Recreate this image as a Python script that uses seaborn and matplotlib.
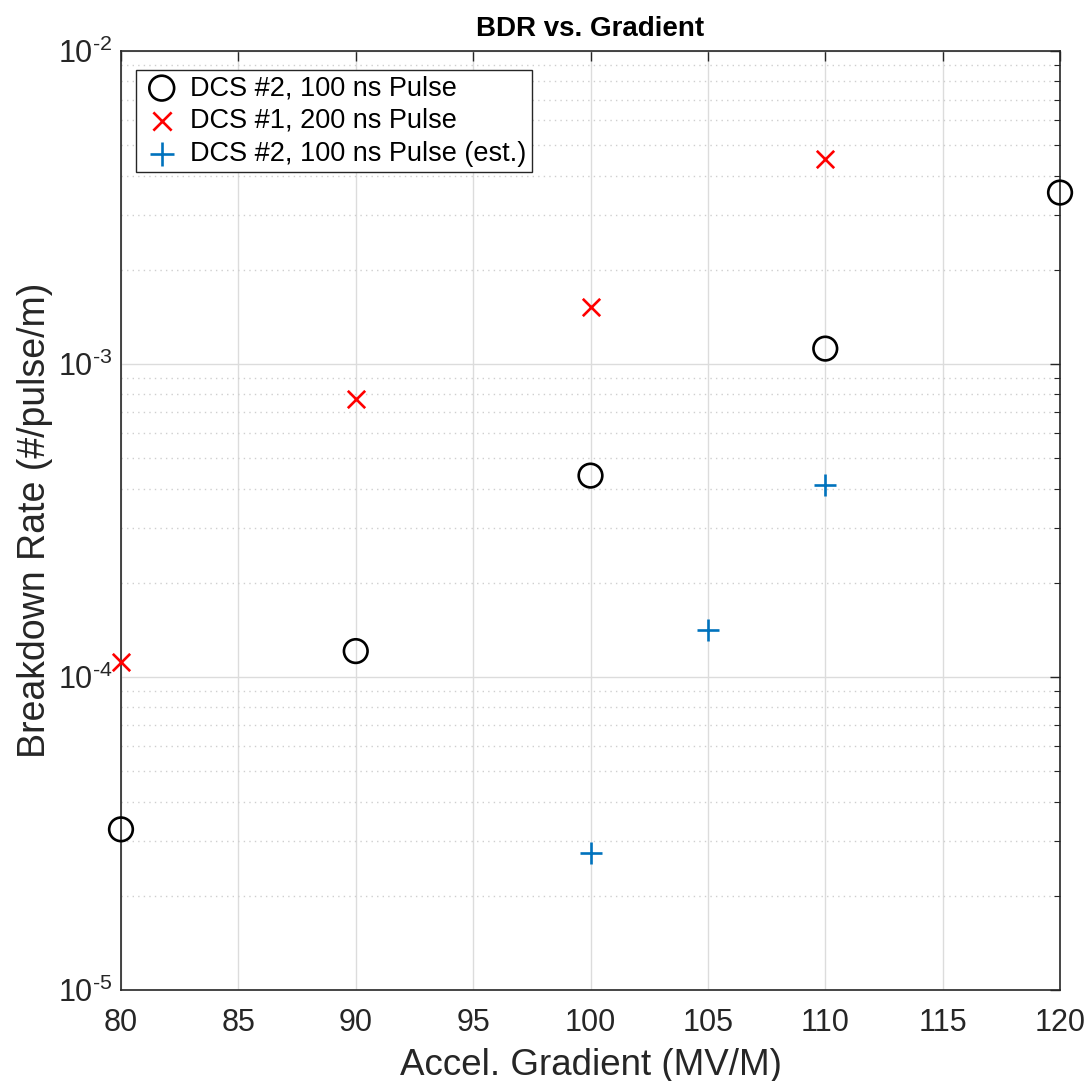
import matplotlib
matplotlib.use("Agg")
import matplotlib.pyplot as plt
import matplotlib.ticker as mticker
import seaborn as sns
import pandas as pd
import numpy as np

# Breakdown-rate measurements versus accelerating gradient
grad_dcs2 = [80, 90, 100, 110, 120]
bdr_dcs2 = [3.26e-5, 1.21e-4, 4.4e-4, 1.12e-3, 3.53e-3]

grad_dcs1 = [80, 90, 100, 110]
bdr_dcs1 = [1.12e-4, 7.74e-4, 1.52e-3, 4.53e-3]

grad_est = [100, 105, 110]
bdr_est = [2.73e-5, 1.41e-4, 4.12e-4]

labels = ["DCS #2, 100 ns Pulse", "DCS #1, 200 ns Pulse", "DCS #2, 100 ns Pulse (est.)"]
x_ticks = [80, 85, 90, 95, 100, 105, 110, 115, 120]

sns.set_theme(style="white")
plt.rcParams["font.family"] = ["Liberation Sans", "DejaVu Sans"]
plt.rcParams["mathtext.fontset"] = "custom"
plt.rcParams["mathtext.rm"] = "Liberation Sans"
plt.rcParams["mathtext.default"] = "regular"
plt.rcParams["axes.edgecolor"] = "#262626"

TXT = "#262626"

fig = plt.figure(figsize=(10.89, 10.81), dpi=100)
ax = fig.add_axes([0.1111, 0.0842, 0.8623, 0.8686])

df1 = pd.DataFrame({"x": grad_dcs2, "y": bdr_dcs2})
df2 = pd.DataFrame({"x": grad_dcs1, "y": bdr_dcs1})
df3 = pd.DataFrame({"x": grad_est, "y": bdr_est})

sns.scatterplot(data=df1, x="x", y="y", ax=ax, marker="o", s=17**2,
                facecolor="none", edgecolor="black", linewidth=1.9,
                label=labels[0], zorder=3, clip_on=False)
sns.scatterplot(data=df2, x="x", y="y", ax=ax, marker="x", s=12.5**2,
                color="#FF0000", linewidth=1.9, label=labels[1], zorder=3,
                clip_on=False)
sns.scatterplot(data=df3, x="x", y="y", ax=ax, marker="+", s=16**2,
                color="#0072BD", linewidth=1.9, label=labels[2], zorder=3,
                clip_on=False)

ax.set_yscale("log")
ax.set_xlim(80, 120)
ax.set_ylim(1e-5, 1e-2)
ax.set_xticks(x_ticks)
ax.set_xticklabels([str(t) for t in x_ticks])
ax.yaxis.set_major_locator(mticker.LogLocator(base=10, numticks=10))
ax.yaxis.set_minor_locator(mticker.LogLocator(base=10, subs=range(2, 10), numticks=20))
ax.yaxis.set_minor_formatter(mticker.NullFormatter())


def decade_label(v, pos):
    e = int(round(np.log10(v)))
    sign = r"\text{-}" if e < 0 else ""
    return r"$10^{%s%d}$" % (sign, abs(e))


ax.yaxis.set_major_formatter(mticker.FuncFormatter(decade_label))

ax.grid(True, which="major", axis="both", color="#dcdcdc", linewidth=1.0, linestyle="-")
ax.grid(True, which="minor", axis="y", color="#cfcfcf", linewidth=1.0, linestyle=(0, (1, 3)))
ax.set_axisbelow(True)

ax.tick_params(axis="both", which="both", direction="in", top=True, right=True,
               colors=TXT, labelcolor=TXT)
ax.tick_params(axis="both", which="major", length=7, width=1.0, labelsize=22)
ax.tick_params(axis="x", which="major", pad=13)
ax.tick_params(axis="y", which="major", pad=6)
ax.tick_params(axis="y", which="minor", length=4, width=0.8)
for sp in ax.spines.values():
    sp.set_linewidth(1.2)
    sp.set_color(TXT)

ax.set_xlabel("Accel. Gradient (MV/M)", fontsize=26.5, color=TXT, labelpad=7)
ax.set_ylabel("Breakdown Rate (#/pulse/m)", fontsize=27, color=TXT, labelpad=4)
ax.set_title("BDR vs. Gradient", fontsize=20, fontweight="bold", pad=11, color="black")

leg = ax.legend(loc="upper left", bbox_to_anchor=(0.016, 0.980), fontsize=19.5,
                frameon=True, fancybox=False, edgecolor=TXT,
                framealpha=1.0, borderpad=0.2, labelspacing=0.25,
                handletextpad=0.3, handlelength=1.5, borderaxespad=0,
                markerscale=1.05)
leg.get_frame().set_linewidth(1.0)
for t in leg.get_texts():
    t.set_color("black")

fig.savefig("out.png", dpi=100)
